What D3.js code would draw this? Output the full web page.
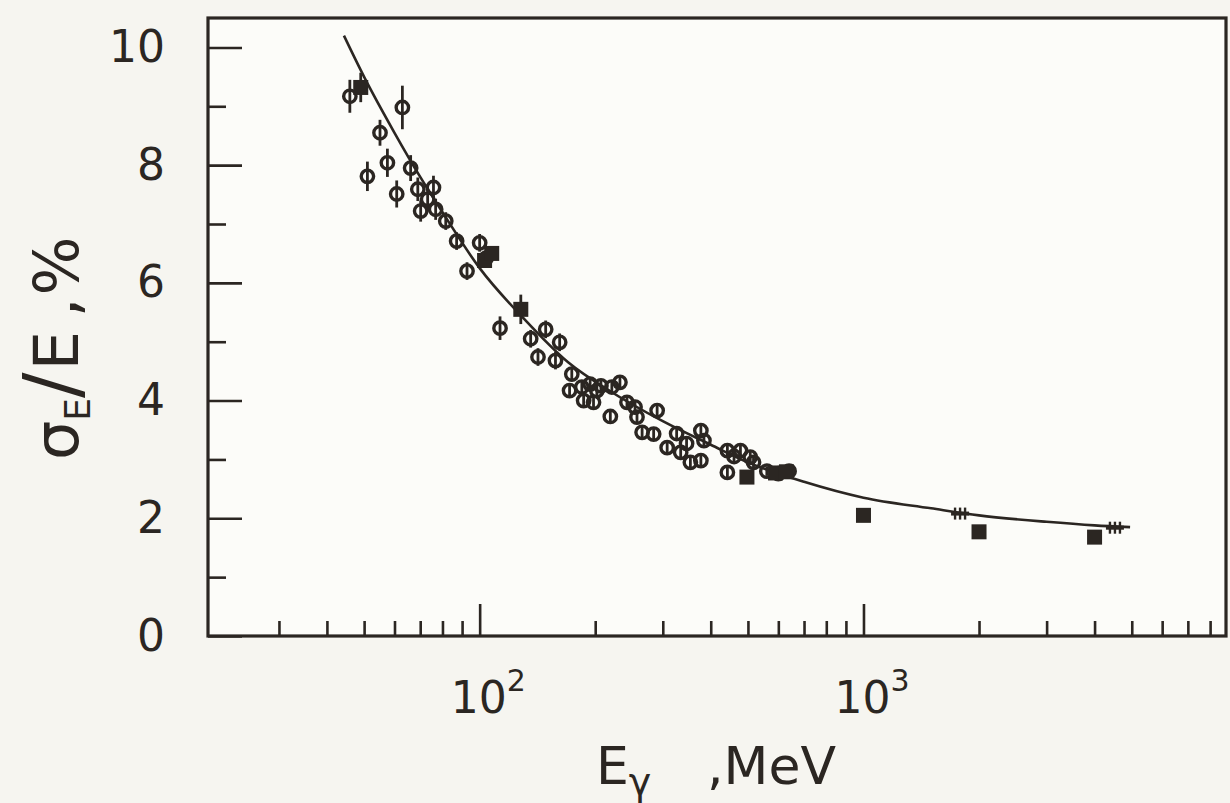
<!DOCTYPE html>
<html>
<head>
<meta charset="utf-8">
<script src="https://cdn.jsdelivr.net/npm/d3@7"></script>
<style>
  body { margin: 0; background: #f6f5f0; }
  svg { display: block; font-family: "DejaVu Sans", sans-serif; }
</style>
</head>
<body>
<div id="chart"></div>
<script>
// Energy resolution of the calorimeter vs photon energy

// open circles: [E (MeV), sigma/E (%), error (%)]
const openCircles = [
    [45.9, 9.17, 0.28], [51.0, 7.81, 0.25], [55.0, 8.55, 0.22], [57.5, 8.04, 0.24],
    [60.8, 7.51, 0.23], [62.9, 8.98, 0.37], [66.1, 7.95, 0.22], [69.0, 7.59, 0.20],
    [70.2, 7.22, 0.18], [73.2, 7.42, 0.18], [75.8, 7.62, 0.20], [76.8, 7.25, 0.18],
    [81.6, 7.05, 0.15], [87.1, 6.71, 0.15], [92.7, 6.20, 0.15], [100, 6.68, 0.15],
    [104, 6.42, 0.12], [113, 5.23, 0.20], [135.8, 5.05, 0.15], [141.9, 4.74, 0.15],
    [148.6, 5.21, 0.15], [157.6, 4.68, 0.15], [161.6, 4.99, 0.15], [171.5, 4.17, 0.12],
    [173.8, 4.45, 0.12], [184.6, 4.23, 0.12], [186.6, 4.00, 0.12], [194, 4.28, 0.12],
    [198, 3.97, 0.12], [202, 4.17, 0.12], [207, 4.25, 0.12], [219, 3.73, 0.12],
    [221, 4.23, 0.12], [232, 4.31, 0.12], [242, 3.97, 0.12], [254, 3.89, 0.12],
    [257, 3.72, 0.12], [265, 3.46, 0.10], [284, 3.43, 0.10], [290, 3.83, 0.12],
    [308, 3.20, 0.10], [326, 3.44, 0.10], [334, 3.12, 0.10], [346, 3.27, 0.10],
    [354, 2.95, 0.10], [377, 3.49, 0.12], [377, 2.98, 0.10], [384, 3.32, 0.10],
    [442, 2.78, 0.10], [442, 3.15, 0.10], [460, 3.05, 0.10], [478, 3.15, 0.10],
    [507, 3.04, 0.10], [517, 2.95, 0.10], [560, 2.80, 0.08], [600, 2.76, 0.08],
    [640, 2.80, 0.08]
];

// filled squares: [E (MeV), sigma/E (%), error (%)]
const filledSquares = [
    [49.0, 9.32, 0.25], [103, 6.38, 0], [107.5, 6.50, 0], [128, 5.55, 0.25],
    [497, 2.70, 0], [590, 2.77, 0], [630, 2.79, 0],
    [1000, 2.05, 0], [2000, 1.77, 0], [4000, 1.68, 0]
];

// small hatched marks sitting on the curve
const crossPoints = [[1785, 2.08], [4520, 1.84]];

// the fitted curve, read point by point
const fitCurve = [
    [44.3, 10.2], [50, 9.5], [60, 8.55], [70, 7.8], [80, 7.2], [100, 6.25],
    [130, 5.4], [170, 4.65], [220, 4.15], [300, 3.65], [400, 3.25], [500, 2.95],
    [700, 2.62], [1000, 2.35], [1500, 2.17], [2000, 2.05], [3000, 1.94],
    [4000, 1.88], [4950, 1.85]
];

const yMajorTicks = [0, 2, 4, 6, 8, 10];
const yMinorTicks = [1, 3, 5, 7, 9];
const xMajorTicks = [100, 1000];
const xMajorLabels = [["10", "2"], ["10", "3"]];
const xMinorTicks = [30, 40, 50, 60, 70, 80, 90, 200, 300, 400, 500, 600, 700, 800, 900,
                     2000, 3000, 4000, 5000, 6000, 7000, 8000];

const width = 1230;
const height = 803;
const margin = { top: 18, right: 4, bottom: 167, left: 208 };
const ink = "#2b2622";

const x = d3.scaleLog()
    .domain([19.6, 8800])
    .range([margin.left, width - margin.right]);

const y = d3.scaleLinear()
    .domain([0, 10.5])
    .range([height - margin.bottom, margin.top]);

const svg = d3.select("#chart").append("svg")
    .attr("width", width)
    .attr("height", height);

// plot area (slightly lighter paper)
svg.append("rect")
    .attr("x", margin.left)
    .attr("y", margin.top)
    .attr("width", width - margin.right - margin.left)
    .attr("height", height - margin.bottom - margin.top)
    .attr("fill", "#fcfcf9");

// x axis ticks, pointing inward
const bottom = height - margin.bottom;
svg.append("g")
    .attr("transform", `translate(0,${bottom})`)
    .call(d3.axisBottom(x).tickValues(xMinorTicks).tickSize(-15).tickFormat(""))
    .call(g => g.select(".domain").remove());
svg.append("g")
    .attr("transform", `translate(0,${bottom})`)
    .call(d3.axisBottom(x).tickValues(xMajorTicks).tickSize(-32).tickFormat(""))
    .call(g => g.select(".domain").remove());

// y axis ticks with labels
svg.append("g")
    .attr("transform", `translate(${margin.left},0)`)
    .call(d3.axisLeft(y).tickValues(yMinorTicks).tickSize(-18).tickFormat(""))
    .call(g => g.select(".domain").remove());
svg.append("g")
    .attr("transform", `translate(${margin.left},0)`)
    .call(d3.axisLeft(y).tickValues(yMajorTicks).tickSize(-34).tickPadding(43).tickFormat(d3.format("d")))
    .call(g => g.select(".domain").remove())
    .call(g => g.selectAll("text").attr("font-size", 44).attr("fill", ink).attr("font-family", "DejaVu Sans"));

svg.selectAll(".tick line")
    .attr("stroke", ink)
    .attr("stroke-width", 2.6);

// x labels 10^2, 10^3
const xl = svg.append("g").selectAll("text")
    .data(xMajorTicks)
    .join("text")
    .attr("x", d => x(d) - 29)
    .attr("y", 713)
    .attr("font-size", 44)
    .attr("fill", ink);
xl.append("tspan").text((d, i) => xMajorLabels[i][0]);
xl.append("tspan")
    .attr("dy", -22)
    .attr("font-size", 30)
    .text((d, i) => xMajorLabels[i][1]);

// frame
svg.append("rect")
    .attr("x", margin.left)
    .attr("y", margin.top)
    .attr("width", width - margin.right - margin.left)
    .attr("height", height - margin.bottom - margin.top)
    .attr("fill", "none")
    .attr("stroke", ink)
    .attr("stroke-width", 3.2);

// fitted curve
const line = d3.line()
    .x(d => x(d[0]))
    .y(d => y(d[1]))
    .curve(d3.curveMonotoneX);

svg.append("path")
    .datum(fitCurve)
    .attr("d", line)
    .attr("fill", "none")
    .attr("stroke", ink)
    .attr("stroke-width", 2.6);

// error bars
const allBars = openCircles.concat(filledSquares).filter(d => d[2] > 0);
svg.append("g")
    .selectAll("line")
    .data(allBars)
    .join("line")
    .attr("x1", d => x(d[0]))
    .attr("x2", d => x(d[0]))
    .attr("y1", d => y(d[1] - d[2]))
    .attr("y2", d => y(d[1] + d[2]))
    .attr("stroke", ink)
    .attr("stroke-width", 2.8);

// open circles
svg.append("g")
    .selectAll("circle")
    .data(openCircles)
    .join("circle")
    .attr("cx", d => x(d[0]))
    .attr("cy", d => y(d[1]))
    .attr("r", 6.2)
    .attr("fill", "none")
    .attr("stroke", ink)
    .attr("stroke-width", 3.4);

// filled squares
const sq = 15;
svg.append("g")
    .selectAll("rect")
    .data(filledSquares)
    .join("rect")
    .attr("x", d => x(d[0]) - sq / 2)
    .attr("y", d => y(d[1]) - sq / 2)
    .attr("width", sq)
    .attr("height", sq)
    .attr("fill", ink);

// hatched marks on the curve
const cross = svg.append("g")
    .selectAll("g")
    .data(crossPoints)
    .join("g")
    .attr("transform", d => `translate(${x(d[0])},${y(d[1])})`);
cross.append("line")
    .attr("x1", -9).attr("x2", 9)
    .attr("stroke", ink).attr("stroke-width", 4);
cross.selectAll("path")
    .data([-5, 0, 5])
    .join("path")
    .attr("d", dx => `M${dx},-6V6`)
    .attr("stroke", ink)
    .attr("stroke-width", 2.4);

// axis titles
const xt = svg.append("text")
    .attr("x", 596)
    .attr("y", 784)
    .attr("font-size", 52)
    .attr("fill", ink);
xt.append("tspan").text("E");
xt.append("tspan").attr("dy", 11).attr("font-size", 38).text("γ");
svg.append("text")
    .attr("x", 836)
    .attr("y", 784)
    .attr("text-anchor", "end")
    .attr("font-size", 52)
    .attr("fill", ink)
    .text(",MeV");

const yt = svg.append("text")
    .attr("transform", "translate(78,460) rotate(-90)")
    .attr("font-size", 62)
    .attr("fill", ink);
yt.append("tspan").text("σ");
yt.append("tspan").attr("dy", 12).attr("font-size", 36).text("E");
yt.append("tspan").attr("dy", -12).attr("font-size", 76).text("/");
yt.append("tspan").attr("dx", 2).text("E");
yt.append("tspan").attr("dx", 14).text(",");
yt.append("tspan").attr("dx", 2).text("%");
</script>
</body>
</html>
